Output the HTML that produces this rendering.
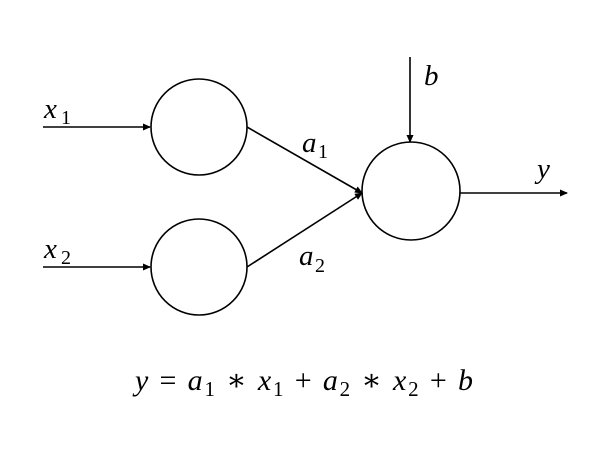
<!DOCTYPE html>
<html><head><style>
html,body{margin:0;padding:0;background:#fff;}
svg{display:block;}
text{font-family:"Liberation Serif","DejaVu Serif",serif;font-style:italic;fill:#000;}
.s{font-style:normal;}
</style></head><body>
<svg width="606" height="465" viewBox="0 0 606 465" xmlns="http://www.w3.org/2000/svg">
<defs><marker id="a" markerWidth="8" markerHeight="8" refX="7" refY="4" orient="auto" markerUnits="userSpaceOnUse"><path d="M0,0.5 L8,4 L0,7.5z" fill="#000"/></marker></defs>
<g stroke="#000" stroke-width="1.6" fill="none">
<circle cx="199" cy="127" r="48"/>
<circle cx="199" cy="267" r="48"/>
<circle cx="411" cy="191" r="49"/>
<line x1="43" y1="127" x2="150" y2="127" marker-end="url(#a)"/>
<line x1="43" y1="267" x2="150" y2="267" marker-end="url(#a)"/>
<line x1="410" y1="57" x2="410" y2="142" marker-end="url(#a)"/>
<line x1="460" y1="193" x2="567" y2="193" marker-end="url(#a)"/>
<line x1="247" y1="127" x2="362" y2="193" marker-end="url(#a)"/>
<line x1="247" y1="267" x2="362" y2="193" marker-end="url(#a)"/>
</g>
<text x="44" y="118" font-size="29">x</text><text x="61" y="124" font-size="20" class="s">1</text>
<text x="44" y="258" font-size="29">x</text><text x="61" y="264" font-size="20" class="s">2</text>
<text x="302" y="152" font-size="29">a</text><text x="318" y="158" font-size="20" class="s">1</text>
<text x="299" y="265" font-size="29">a</text><text x="315" y="272" font-size="20" class="s">2</text>
<text x="424" y="85" font-size="29">b</text>
<text x="537" y="178" font-size="29">y</text>
<text x="135" y="390" font-size="30" textLength="338" lengthAdjust="spacing">y <tspan class="s">=</tspan> a<tspan class="s" font-size="21" dy="6">1</tspan><tspan class="s" dy="-6"> ∗ </tspan>x<tspan class="s" font-size="21" dy="6">1</tspan><tspan class="s" dy="-6"> + </tspan>a<tspan class="s" font-size="21" dy="6">2</tspan><tspan class="s" dy="-6"> ∗ </tspan>x<tspan class="s" font-size="21" dy="6">2</tspan><tspan class="s" dy="-6"> + </tspan>b</text>
</svg>
</body></html>
